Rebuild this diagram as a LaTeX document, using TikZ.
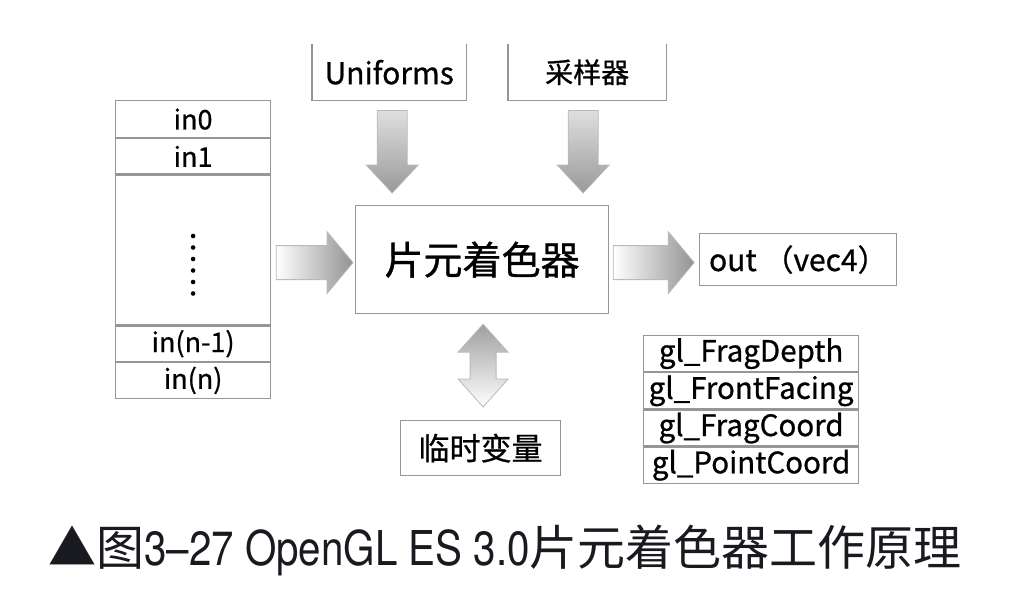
\documentclass[tikz,border=0pt]{standalone}
\usepackage{fontspec}
\setmainfont{Noto Sans CJK SC}
\newfontfamily\diagfont[FakeBold=0.8]{Noto Sans CJK SC}
\newfontfamily\capfont{TeX Gyre Heros}
\usetikzlibrary{positioning,calc}

\definecolor{boxgray}{RGB}{150,150,150}
\definecolor{capblack}{RGB}{24,26,32}

\tikzset{
  cell/.style={draw=boxgray, line width=1.2pt, minimum width=155pt, inner sep=0pt,
               font=\diagfont\fontsize{27}{29}\selectfont},
  glcell/.style={draw=boxgray, line width=1.2pt, minimum width=215pt, minimum height=36pt,
               inner sep=0pt, font=\diagfont\fontsize{29.5}{31}\selectfont},
  box/.style={draw=boxgray, line width=1.2pt, inner sep=0pt, font=\diagfont\fontsize{30}{32}\selectfont},
  harrowfill/.style={left color=white, right color=gray!85, draw=gray!55, line width=0.8pt},
  varrowfill/.style={top color=gray!25, bottom color=gray!80, draw=gray!55, line width=0.8pt},
  darrowfill/.style={top color=gray!75, bottom color=white, draw=gray!55, line width=0.8pt}
}

\begin{document}
\begin{tikzpicture}[x=1pt, y=-1pt]
  \useasboundingbox (0,0) rectangle (1020,614);

  % input stack
  \node[cell, minimum height=37pt, anchor=north west] (in0) at (115,100) {in0};
  \node[cell, minimum height=35pt, below=0pt of in0] (in1) {in1};
  \node[cell, minimum height=150pt, below=0pt of in1] (ell) {};
  \node[cell, minimum height=35pt, below=0pt of ell] (inm) {in(n-1)};
  \node[cell, minimum height=36pt, below=0pt of inm] (inn) {in(n)};
  \foreach \i in {0,...,5}
    \fill ($(ell.center)+(0,-14+\i*11.5)$) circle (2.3pt);

  % uniforms and sampler (open at the top)
  \node[font=\diagfont\fontsize{30}{32}\selectfont, minimum width=154pt, minimum height=56pt,
        inner sep=0pt, anchor=north west] (uni) at (312,44) {Uniforms};
  \node[font=\diagfont\fontsize{28}{30}\selectfont, minimum width=158pt, minimum height=56pt,
        inner sep=0pt, anchor=north west] (smp) at (508,44) {采样器};
  \draw[boxgray, line width=1.2pt] (uni.north west) |- (uni.south east) -- (uni.north east);
  \draw[boxgray, line width=1.2pt] (smp.north west) |- (smp.south east) -- (smp.north east);

  % fragment shader
  \node[box, minimum width=253pt, minimum height=108pt, anchor=north west,
        font=\diagfont\fontsize{39}{41}\selectfont] (frag) at (355,205) {片元着色器};

  % output
  \node[box, minimum width=197pt, minimum height=52pt, anchor=west,
        right=90pt of frag.east] (out) {out （vec4）};

  % temporary variables
  \node[box, minimum width=160pt, minimum height=55pt, anchor=north west,
        font=\diagfont\fontsize{31}{33}\selectfont] (tmp) at (400,420) {临时变量};

  % built-in variables
  \node[glcell, anchor=north west] (gd) at (643,335) {gl\_FragDepth};
  \node[glcell, below=0pt of gd] (gf) {gl\_FrontFacing};
  \node[glcell, below=0pt of gf] (gc) {gl\_FragCoord};
  \node[glcell, below=0pt of gc] (gp) {gl\_PointCoord};

  % block arrows
  \shade[harrowfill] let \p1=($(ell.east)+(5,0)$), \p2=($(frag.west)+(-2,3)$) in
    (\x1,\y2+17pt) -- (\x2-26pt,\y2+17pt) -- (\x2-26pt,\y2+31pt) -- (\x2,\y2)
    -- (\x2-26pt,\y2-31pt) -- (\x2-26pt,\y2-17pt) -- (\x1,\y2-17pt) -- cycle;
  \shade[harrowfill] let \p1=($(frag.east)+(4,3)$), \p2=($(out.west)+(-5,0)$) in
    (\x1,\y1+17pt) -- (\x2-26pt,\y1+17pt) -- (\x2-26pt,\y1+31pt) -- (\x2,\y1)
    -- (\x2-26pt,\y1-31pt) -- (\x2-26pt,\y1-17pt) -- (\x1,\y1-17pt) -- cycle;
  \foreach \src/\dx in {uni/3, smp/-4}
    \shade[varrowfill] let \p1=($(\src.south)+(\dx,10)$), \p2=($(frag.north)+(0,-12)$) in
      (\x1-15pt,\y1) -- (\x1-15pt,\y2+28pt) -- (\x1-26pt,\y2+28pt) -- (\x1,\y2)
      -- (\x1+26pt,\y2+28pt) -- (\x1+15pt,\y2+28pt) -- (\x1+15pt,\y1) -- cycle;
  \shade[darrowfill] let \p1=($(frag.south)+(1,10)$), \p2=($(tmp.north)+(0,-13)$) in
    (\x1,\y1) -- (\x1+25pt,\y1-28pt) -- (\x1+13pt,\y1-28pt) -- (\x1+13pt,\y2+28pt)
    -- (\x1+25pt,\y2+28pt) -- (\x1,\y2) -- (\x1-25pt,\y2+28pt) -- (\x1-13pt,\y2+28pt)
    -- (\x1-13pt,\y1-28pt) -- (\x1-25pt,\y1-28pt) -- cycle;

  % caption
  \node[anchor=west, inner sep=0pt, text=capblack, font=\fontsize{48}{50}\selectfont]
    (cap) at (48,550) {▲图\scalebox{0.84}[1]{\capfont 3–27 OpenGL ES 3.0}片元着色器工作原理};
\end{tikzpicture}
\end{document}
